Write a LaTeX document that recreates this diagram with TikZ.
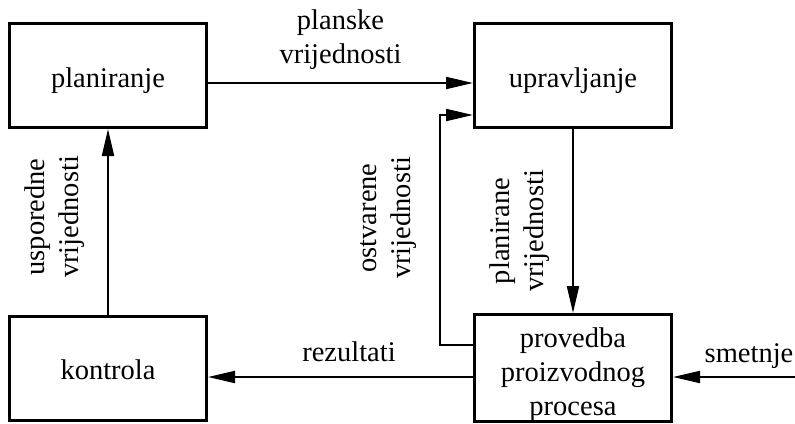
\documentclass[tikz,border=0pt]{standalone}
\usepackage{fontspec}
\setmainfont{Liberation Serif}
\usetikzlibrary{arrows.meta}
\begin{document}
\begin{tikzpicture}[x=1bp,y=-1bp,
  every node/.style={font=\fontsize{28.5bp}{34bp}\selectfont, inner sep=0pt},
  block/.style={draw, line width=3bp, minimum width=197bp, minimum height=104bp,
    text height=29bp, text depth=6bp},
  multiblock/.style={draw, line width=3bp, minimum width=197bp, minimum height=104bp,
    align=center, text height=101bp, text depth=6bp},
  conn/.style={line width=2bp, -{Triangle[length=27bp,width=12bp]}},
  lbl/.style={align=center, anchor=base},
]
\useasboundingbox (0,0) rectangle (795,423);

% blocks
\node[block] (plan) at (108,75.5) {planiranje};
\node[block] (upr) at (573,75.5) {upravljanje};
\node[block] (kon) at (108,368) {kontrola};
\node[multiblock] (prov) at (573,368) {provedba\\proizvodnog\\procesa};

% free ends
\coordinate (dist) at (795,377);
\coordinate (fbk) at (440,115);

% connectors
\draw[conn] ([yshift=-7.5bp]plan.east) -- ([yshift=-7.5bp]upr.west);
\draw[conn] (upr.south) -- (prov.north);
\draw[conn] ([yshift=-9bp]prov.west) -- ([yshift=-9bp]kon.east);
\draw[conn] (kon.north) -- (plan.south);
\draw[conn] (dist) -- (dist -| prov.east);
\draw[conn] ([yshift=23bp]prov.west) -| (fbk) -- (fbk -| upr.west);

% labels
\node[lbl] (ps) at (340.5,63) {planske\\vrijednosti};
\node[lbl, rotate=90] (uv) at (78,217) {usporedne\\vrijednosti};
\node[lbl, rotate=90] (ov) at (410,218) {ostvarene\\vrijednosti};
\node[lbl, rotate=90] (pv) at (543,231) {planirane\\vrijednosti};
\node[anchor=base] (rz) at (349,361) {rezultati};
\node[anchor=base] (sm) at (749,362) {smetnje};
\end{tikzpicture}
\end{document}
